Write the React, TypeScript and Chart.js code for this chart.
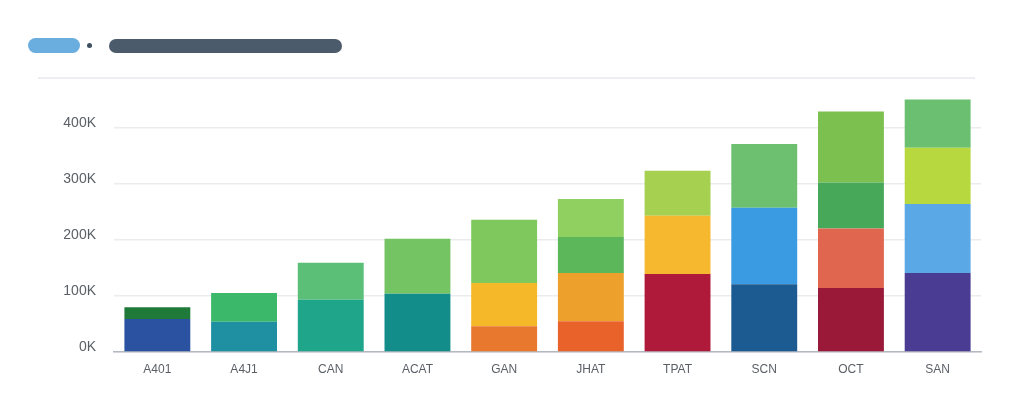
import React, { useEffect, useRef } from "react";
import { Chart, registerables } from "chart.js";

Chart.register(...registerables);

const categories = ["A401", "A4J1", "CAN", "ACAT", "GAN", "JHAT", "TPAT", "SCN", "OCT", "SAN"];
const yTickLabels = ["0K", "100K", "200K", "300K", "400K"];

// stacked layers (thousands), bottom to top
const layer1 = [59, 54, 93, 104, 46, 55, 139, 121, 114, 141];
const layer2 = [21, 51, 66, 98, 77, 86, 104, 136, 106, 123];
const layer3 = [0, 0, 0, 0, 113, 64, 80, 114, 82, 100];
const layer4 = [0, 0, 0, 0, 0, 68, 0, 0, 127, 86];

const layer1Colors = ["#2a52a0", "#1f8fa2", "#1fa58a", "#138d8a", "#e8782e", "#e8622a", "#b01a3a", "#1c5a92", "#9a1838", "#4a3c92"];
const layer2Colors = ["#1f7a3a", "#3cb86a", "#5cbf78", "#74c464", "#f4b828", "#eda02c", "#f5b82e", "#3a9ae2", "#e06650", "#5aa8e6"];
const layer3Colors = ["#7ec85e", "#7ec85e", "#7ec85e", "#7ec85e", "#7ec85e", "#5cb65a", "#a6d050", "#6cc070", "#48a85a", "#b8d840"];
const layer4Colors = ["#8fd060", "#8fd060", "#8fd060", "#8fd060", "#8fd060", "#8fd060", "#8fd060", "#8fd060", "#7cc050", "#6ac070"];

export default function App() {
  const ref = useRef<HTMLCanvasElement | null>(null);

  useEffect(() => {
    document.body.style.margin = "0";
    const ctx = ref.current;
    if (!ctx) return;
    const mk = (label: string, data: number[], colors: string[]) => ({
      label,
      data,
      backgroundColor: colors,
      borderWidth: 0,
      barPercentage: 0.76,
      categoryPercentage: 1,
    });
    const chart = new Chart(ctx, {
      type: "bar",
      data: {
        labels: categories,
        datasets: [
          mk("L1", layer1, layer1Colors),
          mk("L2", layer2, layer2Colors),
          mk("L3", layer3, layer3Colors),
          mk("L4", layer4, layer4Colors),
        ],
      },
      options: {
        animation: false,
        responsive: false,
        maintainAspectRatio: false,
        layout: { padding: { top: 94, right: 43, left: 8, bottom: 0 } },
        plugins: { legend: { display: false }, tooltip: { enabled: false } },
        scales: {
          x: {
            stacked: true,
            grid: { display: false, drawTicks: false },
            border: { display: true, color: "#b4b8bf", width: 1.5 },
            ticks: {
              padding: 10,
              color: "#5a5f66",
              font: { family: "Liberation Sans", size: 12 },
            },
            afterFit: (s: any) => {
              s.height = 63;
            },
          },
          y: {
            stacked: true,
            min: 0,
            max: 460,
            grid: { color: "#eaecef", lineWidth: 1.5, drawTicks: false },
            border: { display: false },
            ticks: {
              stepSize: 100,
              padding: 18,
              labelOffset: -5,
              color: "#5a5f66",
              font: { family: "Liberation Sans", size: 14 },
              callback: (v: any) => yTickLabels[Math.round(Number(v) / 100)] ?? "",
            },
            afterBuildTicks: (s: any) => {
              s.ticks = s.ticks.filter((t: any) => t.value % 100 === 0);
            },
            afterFit: (s: any) => {
              s.width = 106;
            },
          },
        },
      },
    });
    return () => chart.destroy();
  }, []);

  return (
    <div style={{ position: "fixed", left: 0, top: 0, width: 1024, height: 415, background: "#fff" }}>
      <canvas ref={ref} width={1024} height={415} style={{ position: "absolute", left: 0, top: 0 }} />
      <div style={{ position: "absolute", left: 28, top: 38, width: 52, height: 15, borderRadius: 8, background: "#6aaee0" }} />
      <div style={{ position: "absolute", left: 87, top: 43, width: 5, height: 5, borderRadius: 3, background: "#3e5060" }} />
      <div style={{ position: "absolute", left: 109, top: 39, width: 233, height: 14, borderRadius: 7, background: "#4b5b6b" }} />
      <div style={{ position: "absolute", left: 38, top: 77, width: 937, height: 2, background: "#eceef1" }} />
    </div>
  );
}
